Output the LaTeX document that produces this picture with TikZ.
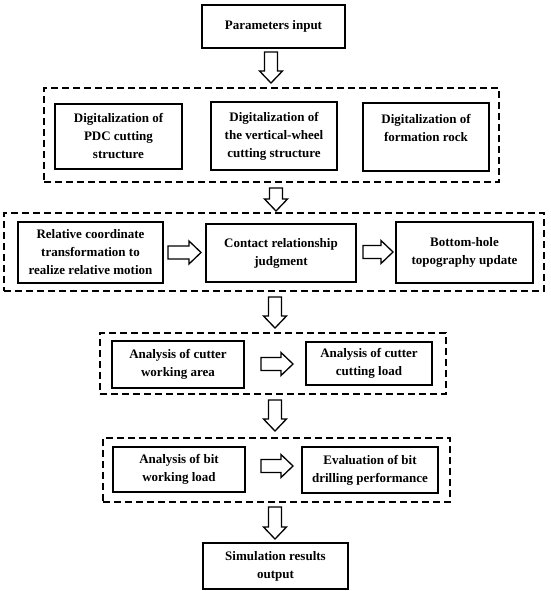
\documentclass[tikz,border=0pt]{standalone}
\usepackage{fontspec}
\setmainfont{Liberation Serif}
\usetikzlibrary{calc}
\tikzset{
  box/.style={draw, line width=1.6pt, align=center, inner sep=0pt,
    font=\fontsize{13}{18}\selectfont\bfseries},
  group/.style={draw, line width=1.5pt, dash pattern=on 7pt off 4pt, inner sep=0pt},
  barr/.style={draw, line width=1.3pt, fill=white, line join=miter},
}
\newcommand\blockarr[2]{%
  \coordinate (#1h) at ($(#2)!12pt!(#1)$);
  \draw[barr] ($(#1)!6.5pt!90:(#2)$) -- ($(#1h)!6.5pt!-90:(#1)$)
    -- ($(#1h)!11.5pt!-90:(#1)$) -- (#2) -- ($(#1h)!11.5pt!90:(#1)$)
    -- ($(#1h)!6.5pt!90:(#1)$) -- ($(#1)!6.5pt!-90:(#2)$) -- cycle;
}
\begin{document}
\begin{tikzpicture}[x=1pt,y=-1pt]
\fill[white] (0,0) rectangle (550,591);
\useasboundingbox (0,0) rectangle (550,591);

\node[box, minimum width=143pt, minimum height=43pt] (P) at (273.5,26.5) {Parameters input};

\node[group, minimum width=455pt, minimum height=94pt] (G1) at (271.5,135) {};
\node[box, minimum width=127pt, minimum height=65pt] (PDC) at (118.5,136.5) {Digitalization of\\PDC cutting\\structure};
\node[box, minimum width=126pt, minimum height=68pt] (VW) at (274,136) {Digitalization of\\the vertical-wheel\\cutting structure};
\node[box, minimum width=126pt, minimum height=68pt] (FR) at (426,137) {Digitalization of\\formation rock\\~};

\node[group, minimum width=540pt, minimum height=78pt] (G2) at (274,252) {};
\node[box, minimum width=145pt, minimum height=61pt] (REL) at (90.5,252.5) {Relative coordinate\\transformation to\\realize relative motion};
\node[box, minimum width=150pt, minimum height=58pt] (CON) at (281,253) {Contact relationship\\judgment};
\node[box, minimum width=137pt, minimum height=61pt] (BH) at (464.5,252.5) {Bottom-hole\\topography update};

\node[group, minimum width=346pt, minimum height=61pt] (G3) at (273,363.5) {};
\node[box, minimum width=132pt, minimum height=47pt] (CWA) at (178,364.5) {Analysis of cutter\\working area};
\node[box, minimum width=126pt, minimum height=43pt] (CCL) at (369,363.5) {Analysis of cutter\\cutting load};

\node[group, minimum width=347pt, minimum height=64pt] (G4) at (276.5,470) {};
\node[box, minimum width=132pt, minimum height=45pt] (BWL) at (179,469.5) {Analysis of bit\\working load};
\node[box, minimum width=136pt, minimum height=46pt] (EVA) at (370,470) {Evaluation of bit\\drilling performance};

\node[box, minimum width=145pt, minimum height=46pt] (SIM) at (275.5,566) {Simulation results\\output};

\coordinate (a0s) at (271,52);   \coordinate (a0e) at (271,83);
\coordinate (a1s) at (276,188);  \coordinate (a1e) at (276,211);
\coordinate (a2s) at (275,297);  \coordinate (a2e) at (275,328);
\coordinate (a3s) at (275,400);  \coordinate (a3e) at (275,431);
\coordinate (a4s) at (275,507);  \coordinate (a4e) at (275,539);
\coordinate (h1s) at (168,252.5); \coordinate (h1e) at (201,252.5);
\coordinate (h2s) at (363,252);   \coordinate (h2e) at (393,252);
\coordinate (h3s) at (261,364);   \coordinate (h3e) at (293,364);
\coordinate (h4s) at (261,466);   \coordinate (h4e) at (293,466);

\blockarr{a0s}{a0e}
\blockarr{a1s}{a1e}
\blockarr{a2s}{a2e}
\blockarr{a3s}{a3e}
\blockarr{a4s}{a4e}
\blockarr{h1s}{h1e}
\blockarr{h2s}{h2e}
\blockarr{h3s}{h3e}
\blockarr{h4s}{h4e}
\end{tikzpicture}
\end{document}
